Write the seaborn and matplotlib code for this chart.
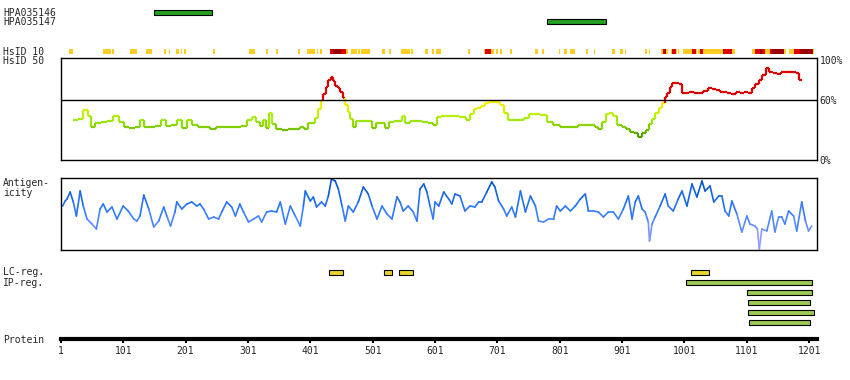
import numpy as np
import matplotlib
matplotlib.use('Agg')
import matplotlib.pyplot as plt
from matplotlib.collections import LineCollection
import seaborn as sns

sns.set_style('white')
plt.rcParams['font.family'] = ['DejaVu Sans Mono']

PROT_LEN = 1213

# antibodies
antibody_names = ['HPA035146', 'HPA035147']
antibody_start = [150, 781]
antibody_end = [243, 875]

# HsID 10 segments (0 = orange, 1 = red, 2 = dark red)
hsid10_start = [14, 18, 69, 83, 112, 137, 167, 174, 186, 193, 198, 245, 303, 330, 346, 381,
                396, 411, 417, 433, 438, 451, 458, 467, 478, 483, 494, 516, 528, 546, 562,
                585, 596, 603, 654, 680, 681, 691, 698, 705, 721, 762, 773, 800, 808, 818,
                843, 856, 884, 898, 905, 937, 944, 963, 967, 970, 972, 979, 981, 987, 990,
                999, 1013, 1019, 1022, 1026, 1030, 1058, 1062, 1064, 1077, 1109, 1114, 1122,
                1125, 1130, 1138, 1142, 1160, 1168, 1177, 1187, 1207]
hsid10_end = [17, 21, 82, 86, 123, 148, 170, 176, 190, 196, 201, 248, 312, 333, 349, 384,
              409, 414, 419, 438, 451, 458, 461, 476, 481, 493, 497, 521, 531, 561, 566,
              589, 600, 611, 657, 681, 691, 695, 702, 708, 724, 766, 776, 802, 812, 825,
              847, 858, 889, 902, 907, 941, 946, 967, 970, 972, 975, 981, 987, 989, 993,
              1013, 1019, 1021, 1026, 1030, 1058, 1062, 1064, 1077, 1082, 1114, 1122, 1125,
              1130, 1138, 1142, 1160, 1163, 1177, 1187, 1207, 1209]
hsid10_level = [0, 0, 0, 0, 0, 0, 0, 0, 0, 0, 0, 0, 0, 0, 0, 0,
                0, 0, 0, 1, 2, 1, 0, 0, 0, 0, 0, 0, 0, 0, 0,
                0, 0, 0, 0, 0, 1, 0, 0, 0, 0, 0, 0, 0, 0, 0,
                0, 0, 0, 0, 0, 0, 0, 0, 1, 2, 0, 0, 1, 0, 0,
                0, 1, 0, 0, 1, 0, 0, 2, 1, 0, 0, 1, 2,
                1, 0, 1, 2, 0, 0, 1, 2, 0]

# HsID 50 conservation (%)
cons_pos = [25, 33, 41, 47, 53, 60, 70, 80, 90, 98, 106, 115, 125, 131, 137, 147, 157, 165,
            173, 183, 192, 200, 208, 216, 225, 235, 245, 255, 265, 275, 285, 295, 303, 311,
            318, 323, 328, 332, 337, 343, 350, 360, 370, 380, 388, 394, 400, 406, 411, 416,
            420, 424, 428, 432, 435, 439, 443, 447, 451, 455, 459, 463, 467, 471, 477, 487,
            497, 502, 510, 518, 524, 532, 540, 546, 550, 556, 565, 575, 585, 594, 600, 607,
            615, 625, 635, 645, 655, 660, 666, 672, 678, 684, 690, 696, 703, 709, 715, 721,
            730, 740, 748, 755, 765, 775, 785, 796, 807, 817, 827, 834, 844, 854, 860, 866,
            872, 877, 884, 890, 897, 904, 910, 917, 923, 930, 937, 942, 946, 951, 957, 962,
            967, 971, 975, 979, 983, 989, 995, 999, 1005, 1012, 1020, 1028, 1035, 1042, 1048,
            1055, 1060, 1066, 1072, 1080, 1087, 1094, 1100, 1106, 1111, 1117, 1123, 1128,
            1134, 1140, 1146, 1152, 1158, 1165, 1172, 1178, 1183, 1187]
cons_val = [40, 41, 50, 44, 33, 37, 38, 39, 44, 38, 33, 32, 33, 40, 33, 33, 34, 40,
            34, 35, 40, 32, 40, 35, 33, 33, 31, 33, 33, 33, 33, 34, 40, 43,
            38, 34, 40, 32, 47, 36, 31, 30, 31, 31, 33, 31, 37, 37, 42, 51,
            59, 66, 73, 80, 83, 79, 74, 72, 68, 62, 55, 48, 41, 33, 39, 39,
            39, 32, 37, 37, 32, 38, 39, 39, 44, 37, 39, 39, 38, 37, 35, 43,
            44, 44, 44, 43, 40, 46, 51, 52, 54, 57, 58, 58, 58, 55, 47, 40,
            40, 40, 42, 46, 46, 45, 38, 35, 33, 33, 33, 35, 35, 35, 33, 31,
            38, 46, 47, 44, 35, 33, 31, 28, 27, 23, 27, 30, 36, 41, 47, 52,
            57, 63, 67, 73, 77, 77, 76, 67, 67, 68, 67, 67, 69, 72, 71,
            70, 68, 68, 67, 66, 68, 67, 68, 67, 72, 76, 80, 85,
            92, 88, 87, 86, 88, 88, 88, 88, 87, 80]

# antigenicity (relative score)
anti_pos = [4, 8, 11, 16, 21, 26, 32, 37, 43, 51, 58, 64, 69, 75, 83, 91, 101, 109, 118, 123,
            128, 134, 142, 150, 158, 166, 171, 177, 184, 187, 195, 203, 211, 219, 224, 230,
            238, 246, 254, 259, 267, 275, 281, 288, 294, 302, 310, 318, 323, 331, 339, 347,
            353, 361, 369, 377, 385, 390, 393, 401, 406, 411, 419, 425, 430, 435, 441, 446,
            452, 457, 462, 470, 478, 486, 494, 500, 508, 516, 524, 532, 540, 545, 550, 558,
            566, 572, 577, 583, 588, 593, 598, 601, 607, 615, 623, 628, 633, 641, 649, 657,
            665, 671, 676, 684, 692, 697, 703, 711, 716, 724, 730, 738, 746, 754, 762, 767,
            775, 783, 791, 796, 802, 810, 818, 826, 834, 842, 847, 855, 863, 871, 879, 887,
            895, 903, 911, 917, 922, 927, 933, 938, 943, 945, 949, 954, 962, 970, 975, 983,
            991, 997, 1005, 1013, 1021, 1029, 1034, 1042, 1048, 1056, 1061, 1066, 1072, 1077,
            1085, 1093, 1101, 1106, 1114, 1118, 1121, 1125, 1133, 1141, 1146, 1152, 1157,
            1162, 1168, 1176, 1181, 1189, 1195, 1200, 1205]
anti_val = [43, 48, 50, 57, 47, 33, 58, 43, 30, 25, 20, 40, 45, 37, 42, 30, 43, 38, 30, 28,
            33, 54, 40, 22, 28, 42, 33, 23, 37, 47, 40, 45, 47, 43, 45, 40,
            30, 32, 30, 37, 47, 42, 33, 45, 37, 27, 30, 33, 27, 37, 38, 37,
            47, 25, 43, 33, 23, 43, 58, 48, 52, 42, 47, 43, 53, 70, 68, 60,
            43, 28, 43, 37, 47, 62, 55, 43, 30, 43, 35, 30, 52, 47, 38, 43,
            37, 28, 60, 65, 57, 43, 30, 47, 43, 57, 50, 45, 55, 53, 38, 43,
            42, 47, 47, 57, 67, 62, 48, 40, 33, 42, 32, 58, 37, 53, 43, 28,
            27, 30, 30, 43, 38, 43, 38, 43, 50, 55, 38, 38, 37, 32, 37, 37,
            30, 40, 53, 30, 47, 53, 40, 37, 27, 8, 25, 32, 43, 55, 43, 38,
            50, 58, 43, 65, 52, 68, 58, 63, 47, 53, 53, 38, 33, 48,
            35, 17, 33, 25, 23, 20, 0, 20, 18, 38, 17, 32, 32,
            25, 38, 33, 18, 47, 28, 18, 23]

lc_start = [431, 519, 543, 1012]
lc_end = [453, 532, 566, 1041]
ip_start = [1004, 1101, 1103, 1103, 1104]
ip_end = [1205, 1205, 1202, 1208, 1202]

tick_pos = list(range(1, 1202, 100))

hsid_colors = ['#ffcc22', '#dd0000', '#990000']
cons_cmap = sns.blend_palette(['#4e9c00', '#7fcc00', '#a6ee11', '#d4f000', '#ffee00'], as_cmap=True)
anti_cmap = sns.blend_palette(['#b0a4ff', '#7a94ff', '#3a80ff', '#1a6ae8', '#0050c0'], as_cmap=True)


def cons_color(v):
    if v >= 60:
        return '#dd0000'
    return cons_cmap(np.clip((v - 24) / (58 - 24), 0, 1))


def step_segments(pos, val):
    pos = np.asarray(pos, float)
    val = np.asarray(val, float)
    mids = (pos[:-1] + pos[1:]) / 2
    edges = np.concatenate([[pos[0] - (pos[1] - pos[0]) / 2], mids,
                            [pos[-1] + (pos[-1] - pos[-2]) / 2]])
    segs, vals = [], []
    for i in range(len(pos)):
        segs.append([(edges[i], val[i]), (edges[i + 1], val[i])])
        vals.append(val[i])
        if i < len(pos) - 1:
            segs.append([(edges[i + 1], val[i]), (edges[i + 1], val[i + 1])])
            vals.append((val[i] + val[i + 1]) / 2)
    return segs, vals


def line_segments(pos, val):
    pts = np.column_stack([pos, val]).astype(float)
    segs = np.stack([pts[:-1], pts[1:]], axis=1)
    vals = (pts[:-1, 1] + pts[1:, 1]) / 2
    return segs, vals


W, H = 850, 380
X0, X1 = 60.5, 817
fig = plt.figure(figsize=(W / 100, H / 100), dpi=100)


def add_ax(top, bottom):
    return fig.add_axes([X0 / W, 1 - bottom / H, (X1 - X0) / W, (bottom - top) / H])


xlim = (0.5, PROT_LEN + 0.5)

# top: antibodies and HsID 10
ax_top = add_ax(0, 57)
ax_top.set_xlim(*xlim)
ax_top.set_ylim(57, 0)
ab_rows = [12.5, 21.5]
ax_top.barh(ab_rows, np.subtract(antibody_end, antibody_start), left=antibody_start,
            height=5, color='#22a022', edgecolor='black', linewidth=0.8)
ax_top.barh([51.5] * len(hsid10_start), np.subtract(hsid10_end, hsid10_start),
            left=hsid10_start, height=5.5,
            color=[hsid_colors[l] for l in hsid10_level], linewidth=0)
ax_top.axis('off')

# HsID 50
ax_c = add_ax(58, 160)
segs, vals = step_segments(cons_pos, cons_val)
ax_c.add_collection(LineCollection(segs, colors=[cons_color(v) for v in vals],
                                   linewidths=1.6, capstyle='butt'))
ax_c.axhline(60, color='black', lw=1)
ax_c.set_xlim(*xlim)
ax_c.set_ylim(0, 102)
ax_c.set_xticks([])
ax_c.yaxis.tick_right()
ax_c.set_yticks([0, 60, 100])
ax_c.set_yticklabels(['0%', '60%', '100%'])
ax_c.tick_params(axis='y', length=0, pad=2, labelsize=7)

# antigenicity
ax_a = add_ax(178, 250)
segs, vals = line_segments(anti_pos, anti_val)
ax_a.add_collection(LineCollection(segs, colors=[anti_cmap(np.clip(v / 68, 0, 1)) for v in vals],
                                   linewidths=1.2, capstyle='round'))
ax_a.set_xlim(*xlim)
ax_a.set_ylim(-1, 71)
ax_a.set_xticks([])
ax_a.set_yticks([])

for ax in (ax_c, ax_a):
    for sp in ax.spines.values():
        sp.set_color('black')
        sp.set_linewidth(1)

# regions and protein axis
ax_b = add_ax(262, 339)
ax_b.set_xlim(*xlim)
ax_b.set_ylim(339, 262)
ax_b.barh([272.3] * len(lc_start), np.subtract(lc_end, lc_start), left=lc_start,
          height=4.5, color='#e8d42a', edgecolor='black', linewidth=0.8)
ip_rows = [282.5, 292.3, 302.3, 312.3, 322.3]
ax_b.barh(ip_rows, np.subtract(ip_end, ip_start), left=ip_start,
          height=4.5, color='#9cc854', edgecolor='black', linewidth=0.8)
for side in ('left', 'right', 'top'):
    ax_b.spines[side].set_visible(False)
ax_b.spines['bottom'].set_color('black')
ax_b.spines['bottom'].set_linewidth(3)
ax_b.set_yticks([])
ax_b.set_xticks(tick_pos)
ax_b.set_xticklabels([str(t) for t in tick_pos])
ax_b.tick_params(axis='x', direction='out', length=3, width=1.5, color='black',
                 pad=2, labelsize=7, bottom=True)

# row labels
labels = [('HPA035146', 13), ('HPA035147', 22), ('HsID 10', 52), ('HsID 50', 61),
          ('Antigen-', 183), ('icity', 193), ('LC-reg.', 272), ('IP-reg.', 283),
          ('Protein', 340)]
for text, y in labels:
    fig.text(3 / W, 1 - y / H, text, fontsize=7, va='center', ha='left')

fig.savefig('out.png', dpi=100)
